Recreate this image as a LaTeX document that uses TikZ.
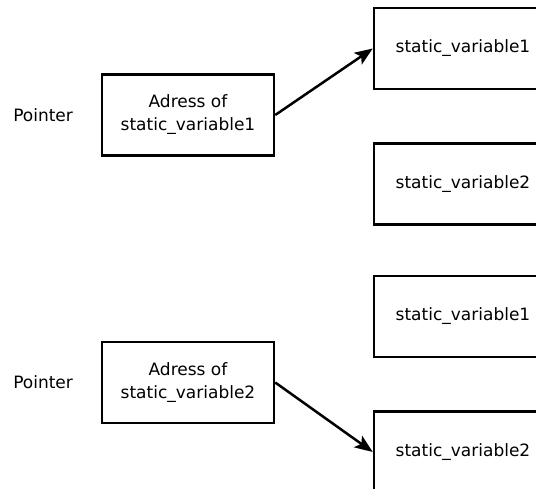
\documentclass[tikz,border=0pt]{standalone}
\usepackage{fontspec}
\setmainfont{DejaVu Sans}
\usetikzlibrary{arrows.meta}

\begin{document}
\begin{tikzpicture}[x=1pt,y=-1pt,line width=2.5pt,
	box/.style={draw,rectangle,minimum width=172pt,minimum height=81pt,align=center,inner sep=0pt},
	var/.style={box,minimum width=178pt},
	ptr/.style={-{Stealth[length=18pt,width=14pt,inset=4pt]}},
	every node/.style={font=\fontsize{17}{23}\selectfont}]
			\useasboundingbox (0,0) rectangle (536,488);
			\node[anchor=west,inner sep=0pt] (lblA) at (12,115) {Pointer};
			\node[anchor=west,inner sep=0pt] (lblB) at (12,382) {Pointer};
			
			\node[box] (adrA) at (188,115) {Adress of\\static\_variable1};
			\node[box] (adrB) at (188,382.5) {Adress of\\static\_variable2};
			
			\node[var] (varA1) at (463,48.5) {static\_variable1};
			\node[var] (varA2) at (463,184) {static\_variable2};
			\node[var] (varB1) at (463,316.5) {static\_variable1};
			\node[var] (varB2) at (463,452) {static\_variable2};
			
			\draw[ptr] (adrA.east)--(varA1.west);
			\draw[ptr] (adrB.east)--(varB2.west);
		\end{tikzpicture}
\end{document}
